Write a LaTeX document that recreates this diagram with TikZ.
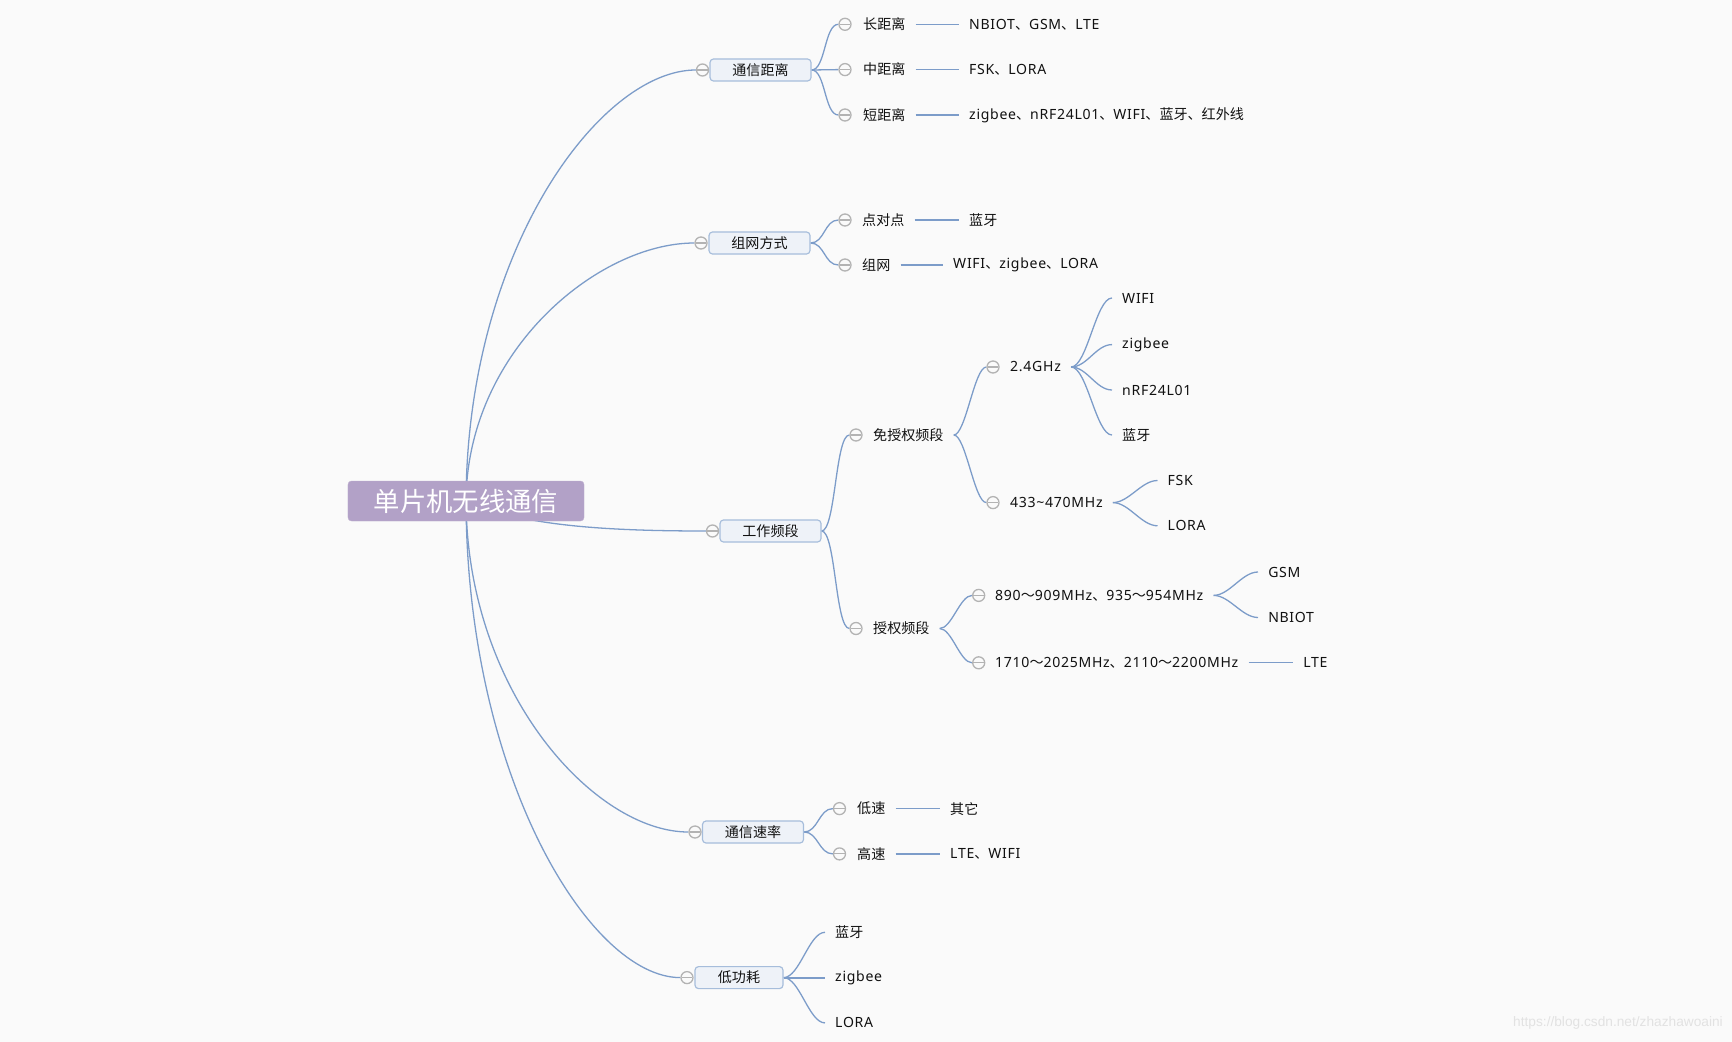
\documentclass[tikz,border=0pt]{standalone}
\usepackage{fontspec}
\setmainfont{Noto Sans CJK SC}
\newfontfamily\lat{Noto Sans}[LetterSpace=5]
\newfontfamily\wmfont{Liberation Sans}
\newcommand\latn[1]{{\lat #1}}
\usetikzlibrary{backgrounds}
\definecolor{bgc}{HTML}{FAFAFA}
\definecolor{linec}{HTML}{7C9CC9}
\definecolor{rootc}{HTML}{B2A1C7}
\definecolor{boxfill}{HTML}{EEF2F8}
\definecolor{boxdraw}{HTML}{A6BDDB}
\definecolor{circc}{HTML}{B3B3B3}
\definecolor{txtc}{HTML}{111111}
\definecolor{wmc}{HTML}{E2E2E2}
\begin{document}
\begin{tikzpicture}[x=0.03cm,y=-0.03cm,
 conn/.style={draw=linec,line width=1.1pt},
 thickconn/.style={draw=linec,line width=1.6pt},
 rootbox/.style={rectangle,rounded corners=3pt,fill=rootc,draw=rootc!85!white,minimum width=7.08cm,minimum height=1.2cm,text=white,font=\fontsize{22.5}{26}\selectfont,inner sep=0pt},
 l1box/.style={rectangle,rounded corners=3pt,fill=boxfill,draw=boxdraw,line width=1pt,minimum height=0.66cm,minimum width=3.03cm,text=txtc,font=\fontsize{12}{14}\selectfont,inner sep=0pt},
 fold/.style={circle,draw=circc,fill=bgc,line width=1.1pt,minimum size=0.36cm,inner sep=0pt,path picture={\draw[circc,line width=1pt]([xshift=0.5pt]path picture bounding box.west)--([xshift=-0.5pt]path picture bounding box.east);}},
 lbl/.style={anchor=west,inner xsep=0.3cm,inner ysep=1pt,text=txtc,font=\fontsize{12}{14}\selectfont}
]
\useasboundingbox (0,0) rectangle (1732,1042);

% root
\node[rootbox] (root) at (466,501) {单片机无线通信};

% level 1
\node[l1box] (b1) at (760.5,70) {通信距离};
\node[l1box] (b2) at (759.5,243) {组网方式};
\node[l1box] (b3) at (770.5,531) {工作频段};
\node[l1box] (b4) at (753,832) {通信速率};
\node[l1box,minimum width=2.64cm] (b5) at (739,977.6) {低功耗};
\node[fold] (c1) at (702.5,70) {};
\node[fold] (c2) at (701,243) {};
\node[fold] (c3) at (712.5,531) {};
\node[fold] (c4) at (695,832) {};
\node[fold] (c5) at (687,977.6) {};

% group 1
\node[fold] (c11) at (845,24.3) {};
\node[fold] (c12) at (845,69.6) {};
\node[fold] (c13) at (845,115) {};
\node[lbl] (t11) at (853,24.3) {长距离};
\node[lbl] (t12) at (853,69.6) {中距离};
\node[lbl] (t13) at (853,115) {短距离};
\node[lbl] (l11) at (959,24.3) {\latn{NBIOT}、\latn{GSM}、\latn{LTE}};
\node[lbl] (l12) at (959,69.6) {\latn{FSK}、\latn{LORA}};
\node[lbl] (l13) at (959,115) {\latn{zigbee}、\latn{nRF24L01}、\latn{WIFI}、蓝牙、红外线};

% group 2
\node[fold] (c21) at (845,220) {};
\node[fold] (c22) at (845,265) {};
\node[lbl] (t21) at (852,220) {点对点};
\node[lbl] (t22) at (852,265) {组网};
\node[lbl] (l21) at (959,220) {蓝牙};
\node[lbl] (l22) at (943,265) {\latn{WIFI}、\latn{zigbee}、\latn{LORA}};

% group 3
\node[fold] (c31) at (856,435) {};
\node[fold] (c32) at (856,628.5) {};
\node[lbl] (t31) at (863,435) {免授权频段};
\node[lbl] (t32) at (863,628.5) {授权频段};
\node[fold] (c311) at (993,367) {};
\node[fold] (c312) at (993,502.6) {};
\node[lbl] (t311) at (1000,367) {\latn{2.4GHz}};
\node[lbl] (t312) at (1000,502.6) {\latn{433\textasciitilde470MHz}};
\node[lbl] (w1) at (1112,298) {\latn{WIFI}};
\node[lbl] (w2) at (1112,344.6) {\latn{zigbee}};
\node[lbl] (w3) at (1112,390) {\latn{nRF24L01}};
\node[lbl] (w4) at (1112,435) {蓝牙};
\node[lbl] (fsk) at (1157.5,480.5) {\latn{FSK}};
\node[lbl] (lora) at (1157.5,525.8) {\latn{LORA}};
\node[fold] (c321) at (978.7,595.4) {};
\node[fold] (c322) at (978.7,662.8) {};
\node[lbl] (t321) at (985,595.4) {\latn{890}～\latn{909MHz}、\latn{935}～\latn{954MHz}};
\node[lbl] (t322) at (985,662.8) {\latn{1710}～\latn{2025MHz}、\latn{2110}～\latn{2200MHz}};
\node[lbl] (gsm) at (1258,572) {\latn{GSM}};
\node[lbl] (nbiot) at (1258,617.5) {\latn{NBIOT}};
\node[lbl] (lte) at (1293,662.8) {\latn{LTE}};

% group 4
\node[fold] (c41) at (839.5,808.6) {};
\node[fold] (c42) at (839.5,853.9) {};
\node[lbl] (t41) at (847,808.6) {低速};
\node[lbl] (t42) at (847,853.9) {高速};
\node[lbl] (l41) at (940,808.6) {其它};
\node[lbl] (l42) at (940,853.9) {\latn{LTE}、\latn{WIFI}};

% group 5
\node[lbl] (l51) at (825,932.3) {蓝牙};
\node[lbl] (l52) at (825,977.6) {\latn{zigbee}};
\node[lbl] (l53) at (825,1022.9) {\latn{LORA}};

% watermark
\node[anchor=east,text=wmc,font=\wmfont\fontsize{11.7}{14}\selectfont,inner sep=0pt] (wm) at (1723,1023) {https://blog.csdn.net/zhazhawoaini};

\begin{scope}[on background layer]
\fill[bgc] (0,0) rectangle (1732,1042);
% root to level 1
\draw[conn] (root.center) .. controls (467,250) and (600,70) .. (c1.west);
\draw[conn] (root.center) .. controls (467,351) and (598,243) .. (c2.west);
\draw[conn] (root.center) .. controls (520,525) and (600,531) .. (c3.west);
\draw[conn] (root.center) .. controls (467,693) and (595,832) .. (c4.west);
\draw[conn] (root.center) .. controls (467,777) and (590,977.6) .. (c5.west);
% group 1
\draw[conn] (b1.east) .. controls +(14,0) and +(-14,0) .. (c11.west);
\draw[conn] (b1.east) -- (c12.west);
\draw[conn] (b1.east) .. controls +(14,0) and +(-14,0) .. (c13.west);
\draw[conn] (t11.east) -- (l11.west);
\draw[conn] (t12.east) -- (l12.west);
\draw[conn] (t13.east) -- (l13.west);
% group 2
\draw[conn] (b2.east) .. controls +(14,0) and +(-14,0) .. (c21.west);
\draw[conn] (b2.east) .. controls +(14,0) and +(-14,0) .. (c22.west);
\draw[conn] (t21.east) -- (l21.west);
\draw[thickconn] (t22.east) -- (l22.west);
% group 3
\draw[conn] (b3.east) .. controls +(14,0) and +(-14,0) .. (c31.west);
\draw[conn] (b3.east) .. controls +(14,0) and +(-14,0) .. (c32.west);
\draw[conn] (t31.east) .. controls +(12,0) and +(-12,0) .. (c311.west);
\draw[conn] (t31.east) .. controls +(12,0) and +(-12,0) .. (c312.west);
\draw[conn] (t311.east) .. controls +(16,0) and +(-16,0) .. (w1.west);
\draw[conn] (t311.east) .. controls +(16,0) and +(-16,0) .. (w2.west);
\draw[conn] (t311.east) .. controls +(16,0) and +(-16,0) .. (w3.west);
\draw[conn] (t311.east) .. controls +(16,0) and +(-16,0) .. (w4.west);
\draw[conn] (t312.east) .. controls +(16,0) and +(-16,0) .. (fsk.west);
\draw[conn] (t312.east) .. controls +(16,0) and +(-16,0) .. (lora.west);
\draw[conn] (t32.east) .. controls +(12,0) and +(-12,0) .. (c321.west);
\draw[conn] (t32.east) .. controls +(12,0) and +(-12,0) .. (c322.west);
\draw[conn] (t321.east) .. controls +(16,0) and +(-16,0) .. (gsm.west);
\draw[conn] (t321.east) .. controls +(16,0) and +(-16,0) .. (nbiot.west);
\draw[conn] (t322.east) -- (lte.west);
% group 4
\draw[conn] (b4.east) .. controls +(14,0) and +(-14,0) .. (c41.west);
\draw[conn] (b4.east) .. controls +(14,0) and +(-14,0) .. (c42.west);
\draw[conn] (t41.east) -- (l41.west);
\draw[conn] (t42.east) -- (l42.west);
% group 5
\draw[conn] (b5.east) .. controls +(16,0) and +(-16,0) .. (l51.west);
\draw[thickconn] (b5.east) -- (l52.west);
\draw[conn] (b5.east) .. controls +(16,0) and +(-16,0) .. (l53.west);
\end{scope}
\end{tikzpicture}
\end{document}
